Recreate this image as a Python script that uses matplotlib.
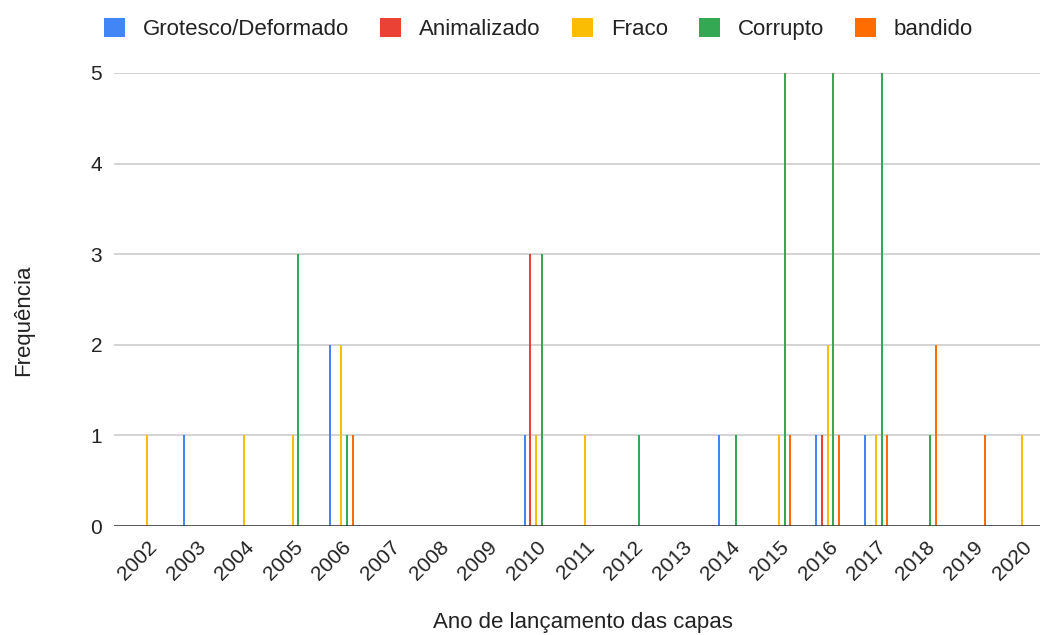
import matplotlib.pyplot as plt
import matplotlib.transforms as mtransforms
from matplotlib.patches import Patch
import numpy as np

plt.rcParams['font.family'] = ['Liberation Sans', 'DejaVu Sans']

# Anos das capas e frequência de cada representação
anos = ["2002", "2003", "2004", "2005", "2006", "2007", "2008", "2009", "2010", "2011",
        "2012", "2013", "2014", "2015", "2016", "2017", "2018", "2019", "2020"]
grotesco = [0, 1, 0, 0, 2, 0, 0, 0, 1, 0, 0, 0, 1, 0, 1, 1, 0, 0, 0]
animalizado = [0, 0, 0, 0, 0, 0, 0, 0, 3, 0, 0, 0, 0, 0, 1, 0, 0, 0, 0]
fraco = [1, 0, 1, 1, 2, 0, 0, 0, 1, 1, 0, 0, 0, 1, 2, 1, 0, 0, 1]
corrupto = [0, 0, 0, 3, 1, 0, 0, 0, 3, 0, 1, 0, 1, 5, 5, 5, 1, 0, 0]
bandido = [0, 0, 0, 0, 1, 0, 0, 0, 0, 0, 0, 0, 0, 1, 1, 1, 2, 1, 0]

series = ["Grotesco/Deformado", "Animalizado", "Fraco", "Corrupto", "bandido"]
valores = [grotesco, animalizado, fraco, corrupto, bandido]
cores = ["#4285F4", "#EA4335", "#FBBC04", "#34A853", "#FF6D01"]

fig = plt.figure(figsize=(10.4, 6.35), dpi=100)
ax = fig.add_axes([114 / 1040, 1 - 526 / 635, 926 / 1040, 453 / 635])

x = np.arange(len(anos))
passo = 0.115
largura = 0.041
for i, (nome, vals, cor) in enumerate(zip(series, valores, cores)):
    desloc = (i - 2) * passo
    ax.bar(x + desloc, vals, width=largura, color=cor, label=nome,
           zorder=3, antialiased=False)

ax.set_xlim(-0.68, 18.37)
ax.set_ylim(0, 5)
ax.set_yticks(range(6))
ax.grid(axis='y', color='#cccccc', linewidth=1.2, zorder=0)
ax.axhline(0, color='#333333', linewidth=1.8, zorder=4)
for s in ax.spines.values():
    s.set_visible(False)

ax.tick_params(axis='both', length=0, labelsize=15, colors='#222222')
ax.tick_params(axis='y', pad=8.5)

# rótulos dos anos inclinados, deslocados para baixo do eixo
ax.set_xticks(x)
ax.set_xticklabels(anos, rotation=45, ha='right', va='center', rotation_mode='anchor')
desloc_rot = mtransforms.ScaledTranslation(7 / 100, -13 / 100, fig.dpi_scale_trans)
for lbl in ax.get_xticklabels():
    lbl.set_transform(lbl.get_transform() + desloc_rot)

ax.set_xlabel("Ano de lançamento das capas", fontsize=16, color='#222222', va='center')
ax.xaxis.set_label_coords(0.506, -0.212)
ax.set_ylabel("Frequência", fontsize=16, color='#222222', va='center')
ax.yaxis.set_label_coords(-0.098, 0.455)

handles = [Patch(facecolor=c, edgecolor='none') for c in cores]
fig.legend(handles, series, loc='center left', bbox_to_anchor=(0.1, 0.954),
           ncol=5, frameon=False, fontsize=16, borderpad=0, borderaxespad=0,
           handlelength=0.95, handleheight=0.95, handletextpad=0.8,
           columnspacing=1.4, labelcolor='#222222')

fig.savefig("out.png", dpi=100)
